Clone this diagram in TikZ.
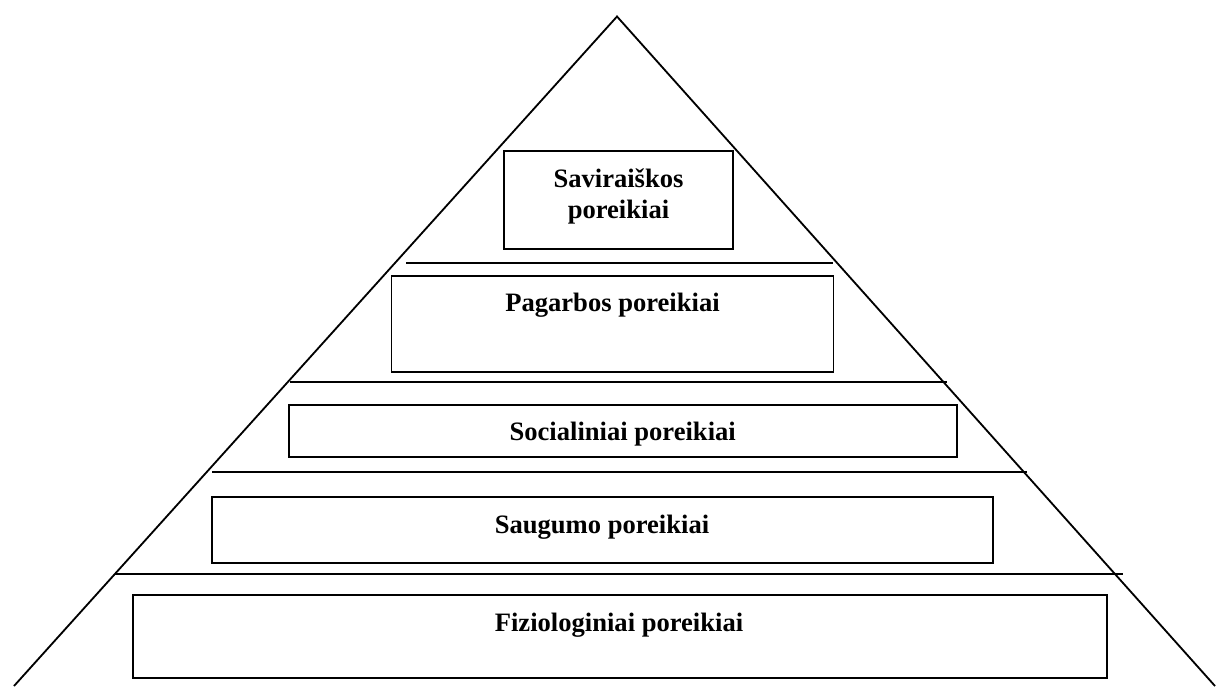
\documentclass[tikz,border=0pt]{standalone}
\usepackage{fontspec}
\setmainfont{Liberation Serif}
\begin{document}
\begin{tikzpicture}[x=0.025cm, y=-0.025cm, line width=1.3pt,
    box/.style={draw, line width=1.4pt},
    lbl/.style={anchor=base, inner sep=0pt, align=center,
                font=\fontsize{18.9}{21.4}\selectfont\bfseries}]
    \useasboundingbox (0,0) rectangle (1216,686);

    % pyramid outline
    \coordinate (top) at (617,16.5);
    \draw (14,686) -- (top) -- (1215,686);

    % level dividers
    \draw (406,263.3) -- (833,263.3);
    \draw (290,382) -- (947,382);
    \draw (212,472.3) -- (1027,472.3);
    \draw (115,574.3) -- (1123,574.3);

    % boxes
    \draw[box] (504,151) rectangle (733,249);
    \draw[box] (391.5,276) rectangle (833.5,372);
    \draw[box] (289,405) rectangle (957,457.3);
    \draw[box] (211.7,497.3) rectangle (992.7,563.3);
    \draw[box] (132.7,595) rectangle (1107.3,678.3);

    \node[lbl] (saviraiska) at (618.5,218) {Saviraiškos\\poreikiai};
    \node[lbl] (pagarba) at (612.5,311.7) {Pagarbos poreikiai};
    \node[lbl] (socialiniai) at (622.7,440) {Socialiniai poreikiai};
    \node[lbl] (saugumas) at (602,533.3) {Saugumo poreikiai};
    \node[lbl] (fiziologiniai) at (619,631.7) {Fiziologiniai poreikiai};
\end{tikzpicture}
\end{document}
